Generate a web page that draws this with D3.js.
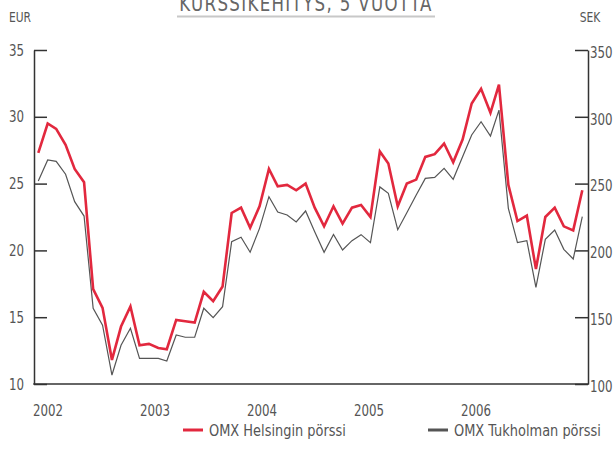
<!DOCTYPE html>
<html>
<head>
<meta charset="utf-8">
<script src="https://cdn.jsdelivr.net/npm/d3@7"></script>
<style>
  body { margin: 0; background: #fff; }
  svg { display: block; font-family: "Liberation Sans Narrow", "DejaVu Sans Condensed", "Roboto", sans-serif; }
</style>
</head>
<body>
<svg id="chart" width="615" height="466"></svg>
<script>
// monthly values Jan 2002 - Dec 2006
const months = d3.range(60).map((i) => new Date(2002, i, 1));
const helsinki = [27.3, 29.5, 29.1, 27.9, 26.1, 25.1, 17.1, 15.7, 11.8, 14.3, 15.8, 12.9,
  13.0, 12.7, 12.6, 14.8, 14.7, 14.6, 16.9, 16.2, 17.3, 22.8, 23.2, 21.7,
  23.3, 26.1, 24.8, 24.9, 24.5, 25.0, 23.2, 21.8, 23.3, 22.0, 23.2, 23.4,
  22.5, 27.4, 26.5, 23.3, 25.0, 25.3, 27.0, 27.2, 28.0, 26.6, 28.3, 31.0,
  32.1, 30.3, 32.4, 24.9, 22.2, 22.6, 18.6, 22.5, 23.2, 21.8, 21.5, 24.5];
const tukholma = [252, 267.7, 266.7, 257, 236.5, 225.7, 156.7, 144, 106.7, 129, 141.7, 119.2,
  119.2, 119.2, 117.2, 136.7, 135, 135, 156.7, 149.6, 157.9, 206.5, 209.8, 198.6,
  216.5, 240.2, 228.7, 226.5, 221.3, 229.5, 214, 198.6, 212, 200.3, 207.3, 211.8,
  205.8, 247.5, 242.7, 215.5, 228.2, 241.5, 253.9, 254.6, 261.4, 253.2, 270.1, 286.4,
  296.3, 285.6, 305, 231.5, 205.8, 207.3, 172.4, 208.3, 215.3, 200.8, 193.6, 225.2];
const years = ["2002", "2003", "2004", "2005", "2006"];
const eurTicks = [10, 15, 20, 25, 30, 35];
const sekTicks = [100, 150, 200, 250, 300, 350];
const series = [
  { name: "OMX Helsingin pörssi", values: helsinki, axis: "eur", color: "#e2283e", width: 2.6 },
  { name: "OMX Tukholman pörssi", values: tukholma, axis: "sek", color: "#555555", width: 1.2 }
];

const svg = d3.select("#chart");
const plotLeft = 34, plotRight = 588, plotTop = 50, plotBottom = 384;
const textColor = "#555";

const x = d3.scaleTime().domain([months[0], months[59]]).range([38.3, 582.3]);
const yEur = d3.scaleLinear().domain([10, 35]).range([plotBottom, plotTop]);
const ySek = d3.scaleLinear().domain([100, 350]).range([plotBottom, plotTop]);
const yearBand = d3.scaleBand().domain(years).range([33, 568]);

// squeeze glyphs horizontally, the original uses a condensed face
function condense(sel, factor) {
  sel.each(function () {
    const t = d3.select(this);
    const x0 = +t.attr("x") || 0;
    t.attr("x", x0 / factor).attr("transform", `scale(${factor},1)`);
  });
}

// title (clipped at top like the original)
svg.append("text")
  .attr("x", 306).attr("y", 11)
  .attr("text-anchor", "middle")
  .attr("fill", "#666")
  .style("font-size", "22px")
  .style("letter-spacing", "1.6px")
  .text("KURSSIKEHITYS, 5 VUOTTA")
  .call(condense, 0.84);
svg.append("line")
  .attr("x1", 177).attr("x2", 435)
  .attr("y1", 16.5).attr("y2", 16.5)
  .attr("stroke", "#c8c8c8").attr("stroke-width", 2);

// unit labels
svg.append("text").attr("x", 20).attr("y", 22).attr("text-anchor", "middle")
  .attr("fill", textColor).style("font-size", "14px").text("EUR").call(condense, 0.85);
svg.append("text").attr("x", 590).attr("y", 22).attr("text-anchor", "middle")
  .attr("fill", textColor).style("font-size", "14px").text("SEK").call(condense, 0.85);

// axes
const leftAxis = d3.axisLeft(yEur).tickValues(eurTicks).tickSizeInner(-13).tickSizeOuter(0).tickPadding(24);
const rightAxis = d3.axisRight(ySek).tickValues(sekTicks).tickSizeInner(-13).tickSizeOuter(0).tickPadding(17);

const gl = svg.append("g").attr("transform", `translate(${plotLeft},0)`).call(leftAxis);
const gr = svg.append("g").attr("transform", `translate(${plotRight},0)`).call(rightAxis);
[gl, gr].forEach((g) => {
  g.select(".domain").attr("stroke", "#333").attr("stroke-width", 1.5);
  g.selectAll(".tick line").attr("stroke", "#333").attr("stroke-width", 1.5);
  g.selectAll(".tick text").attr("fill", textColor).style("font-size", "16px")
    .style("font-family", "\"Liberation Sans Narrow\", \"DejaVu Sans Condensed\", sans-serif");
});
gl.selectAll(".tick text").attr("x", -10).call(condense, 0.82);
gr.selectAll(".tick text").attr("x", 2).attr("dy", "0.45em").call(condense, 0.82);

// bottom line
svg.append("line")
  .attr("x1", plotLeft - 0.75).attr("x2", plotRight + 0.75)
  .attr("y1", plotBottom).attr("y2", plotBottom)
  .attr("stroke", "#333").attr("stroke-width", 1.5);

// year labels
svg.selectAll(".year")
  .data(years)
  .join("text")
  .attr("class", "year")
  .attr("x", (d) => yearBand(d))
  .attr("y", 416)
  .attr("fill", textColor)
  .style("font-size", "16px")
  .text((d) => d)
  .call(condense, 0.82);

// lines, gray first so red sits on top
[series[1], series[0]].forEach((s) => {
  const yScale = s.axis === "eur" ? yEur : ySek;
  const line = d3.line().x((d, i) => x(months[i])).y((d) => yScale(d));
  svg.append("path")
    .datum(s.values)
    .attr("d", line)
    .attr("fill", "none")
    .attr("stroke", s.color)
    .attr("stroke-width", s.width)
    .attr("stroke-linejoin", "miter");
});

// legend
const legendX = d3.scalePoint().domain(series.map((s) => s.name)).range([183, 428]);
const leg = svg.selectAll(".legend")
  .data(series)
  .join("g")
  .attr("class", "legend")
  .attr("transform", (d) => `translate(${legendX(d.name)},430)`);
leg.append("line")
  .attr("x1", 0).attr("x2", 20)
  .attr("stroke", (d) => d.color)
  .attr("stroke-width", 3);
leg.append("text")
  .attr("x", 26).attr("y", 6)
  .attr("fill", textColor)
  .style("font-size", "16px")
  .text((d) => d.name)
  .call(condense, 0.9);
</script>
</body>
</html>
